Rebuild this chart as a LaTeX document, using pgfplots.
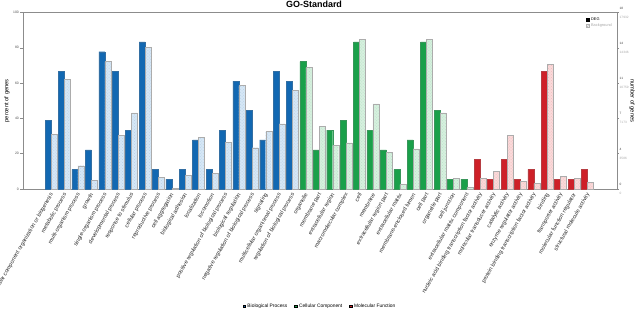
\documentclass[border=0pt]{standalone}
\usepackage{pgfplots}
\pgfplotsset{compat=1.18}
\usepackage{pgfplotstable}
\usepackage{fontspec}
\setmainfont{Liberation Sans}
\usetikzlibrary{patterns}

\definecolor{bpc}{RGB}{18,104,178}
\definecolor{ccc}{RGB}{26,160,74}
\definecolor{mfc}{RGB}{206,32,40}
\definecolor{bpl}{RGB}{214,231,246}
\definecolor{ccl}{RGB}{214,240,222}
\definecolor{mfl}{RGB}{250,218,218}
\definecolor{axc}{RGB}{140,140,140}

% DEG: percent of 18 DEGs; bg: percent of 17932 background genes
\pgfplotstableread{
x deg bg
0 38.89 30.8
1 66.67 62.0
2 11.11 13.2
3 22.22 4.9
4 77.78 72.2
5 66.67 30.2
6 33.33 43.1
7 83.33 80.2
8 11.11 6.6
9 5.56 0.2
10 11.11 7.6
11 27.78 29.3
12 11.11 8.7
13 33.33 26.3
14 61.11 58.6
15 44.44 23.4
16 27.78 32.5
17 66.67 36.9
18 61.11 56.0
}\bptab

\pgfplotstableread{
x deg bg
19 72.22 68.8
20 22.22 35.5
21 33.33 24.6
22 38.89 26.1
23 83.33 84.9
24 33.33 48.2
25 22.22 20.6
26 11.11 2.5
27 27.78 22.7
28 83.33 84.9
29 44.44 43.1
30 5.56 6.2
31 5.56 0.8
}\cctab

\pgfplotstableread{
x deg bg
32 16.67 5.9
33 5.56 10.2
34 16.67 30.2
35 5.56 4.2
36 11.11 3.2
37 66.67 70.7
38 5.56 7.0
39 5.56 5.9
40 11.11 3.8
}\mftab

\begin{document}
\begin{tikzpicture}[x=1bp,y=1bp]
\useasboundingbox (0,0) rectangle (640,318);
\begin{axis}[
  at={(23bp,129bp)}, anchor=south west,
  scale only axis, width=594bp, height=176.5bp,
  xmin=-2.1, xmax=42.2, ymin=0, ymax=100,
  axis line style={axc, line width=0.6bp},
  xtick={0,...,40},
  xticklabels={cellular component organization or biogenesis, metabolic process, multi-organism process, growth, single-organism process, developmental process, response to stimulus, cellular process, reproductive process, cell aggregation, biological adhesion, localization, locomotion, positive regulation of biological process, biological regulation, negative regulation of biological process, signaling, multicellular organismal process, regulation of biological process, organelle, membrane part, extracellular region, macromolecular complex, cell, membrane, extracellular region part, extracellular matrix, membrane-enclosed lumen, cell part, organelle part, cell junction, extracellular matrix component, nucleic acid binding transcription factor activity, molecular transducer activity, catalytic activity, enzyme regulator activity, protein binding transcription factor activity, binding, transporter activity, molecular function regulator, structural molecule activity},
  x tick label style={rotate=60, anchor=east, font=\fontsize{5.6}{6}\selectfont, text=black!85, inner sep=1bp, yshift=-1.5bp},
  major x tick style={draw=none},
  xtick pos=bottom,
  ytick={0,20,...,100},
  ytick pos=left,
  y tick label style={font=\fontsize{3.4}{4}\selectfont, text=black!70, inner sep=1bp},
  y tick style={axc, line width=0.5bp},
  tick align=outside, major tick length=3bp,
  /pgf/number format/assume math mode=true,
  ylabel={percent of genes},
  ylabel style={at={(rel axis cs:-0.027,0.5)}, anchor=center, font=\fontsize{5.8}{6}\selectfont},
  every axis title shift=0pt,
  title={GO-Standard},
  title style={at={(rel axis cs:0.49,1)}, anchor=base, yshift=5.5bp, font=\bfseries\fontsize{9}{9}\selectfont},
  legend style={at={(rel axis cs:0.995,0.985)}, anchor=north east, draw=none, fill=none,
    font=\fontsize{3.9}{4}\selectfont, row sep=-1.8bp, inner sep=0pt, cells={anchor=west}},
  legend image code/.code={\draw[#1] (0bp,-1.4bp) rectangle (2.8bp,1.4bp);},
]
\addlegendimage{fill=black, draw=black, line width=0.3bp}
\addlegendentry{DEG}
\addlegendimage{fill=gray!15, draw=gray!60, line width=0.3bp, postaction={pattern=crosshatch dots, pattern color=gray!60}}
\addlegendentry{\textcolor{black!35}{Background}}

\addplot[ybar, bar width=6bp, bar shift=-3bp, fill=bpc, draw=bpc!70!gray, line width=0.4bp, forget plot] table[x=x,y=deg]{\bptab};
\addplot[ybar, bar width=6bp, bar shift=3bp, fill=bpl, draw=gray!65, line width=0.4bp, postaction={pattern=crosshatch dots, pattern color=bpc!30}, forget plot] table[x=x,y=bg]{\bptab};
\addplot[ybar, bar width=6bp, bar shift=-3bp, fill=ccc, draw=ccc!70!gray, line width=0.4bp, forget plot] table[x=x,y=deg]{\cctab};
\addplot[ybar, bar width=6bp, bar shift=3bp, fill=ccl, draw=gray!65, line width=0.4bp, postaction={pattern=crosshatch dots, pattern color=ccc!30}, forget plot] table[x=x,y=bg]{\cctab};
\addplot[ybar, bar width=6bp, bar shift=-3bp, fill=mfc, draw=mfc!70!gray, line width=0.4bp, forget plot] table[x=x,y=deg]{\mftab};
\addplot[ybar, bar width=6bp, bar shift=3bp, fill=mfl, draw=gray!65, line width=0.4bp, postaction={pattern=crosshatch dots, pattern color=mfc!30}, forget plot] table[x=x,y=bg]{\mftab};
\end{axis}

\begin{axis}[
  at={(23bp,129bp)}, anchor=south west,
  scale only axis, width=594bp, height=176.5bp,
  xmin=-2.1, xmax=42.2, ymin=0, ymax=100,
  axis x line=none, axis y line*=right,
  axis line style={axc, line width=0.6bp},
  ytick={0,20,...,100},
  yticklabels={{\textcolor{black!75}{0}\\[5.5bp]\textcolor{black!35}{0}},
               {\textcolor{black!75}{4}\\[5.5bp]\textcolor{black!35}{3586}},
               {\textcolor{black!75}{7}\\[5.5bp]\textcolor{black!35}{7173}},
               {\textcolor{black!75}{11}\\[5.5bp]\textcolor{black!35}{10759}},
               {\textcolor{black!75}{14}\\[5.5bp]\textcolor{black!35}{14346}},
               {\textcolor{black!75}{18}\\[5.5bp]\textcolor{black!35}{17932}}},
  y tick label style={align=left, font=\fontsize{3.2}{3.5}\selectfont, anchor=west, inner sep=1bp},
  y tick style={axc, line width=0.5bp},
  tick align=outside, major tick length=1.5bp,
  ylabel={number of genes},
  ylabel style={at={(rel axis cs:1.0253,0.5)}, anchor=center, rotate=180, font=\fontsize{5.8}{6}\selectfont},
  legend style={at={(rel axis cs:0.5,-0.664)}, anchor=center, legend columns=3, draw=none, fill=none,
    font=\fontsize{4.9}{5}\selectfont, inner sep=0pt,
    /tikz/every even column/.append style={column sep=5bp}},
  legend image code/.code={\fill[#1] (0bp,-1.2bp) rectangle (2.4bp,1.2bp);},
]
\addlegendimage{fill=bpc}
\addlegendentry{Biological Process}
\addlegendimage{fill=ccc}
\addlegendentry{Cellular Component}
\addlegendimage{fill=mfc}
\addlegendentry{Molecular Function}
\end{axis}
\end{tikzpicture}
\end{document}
